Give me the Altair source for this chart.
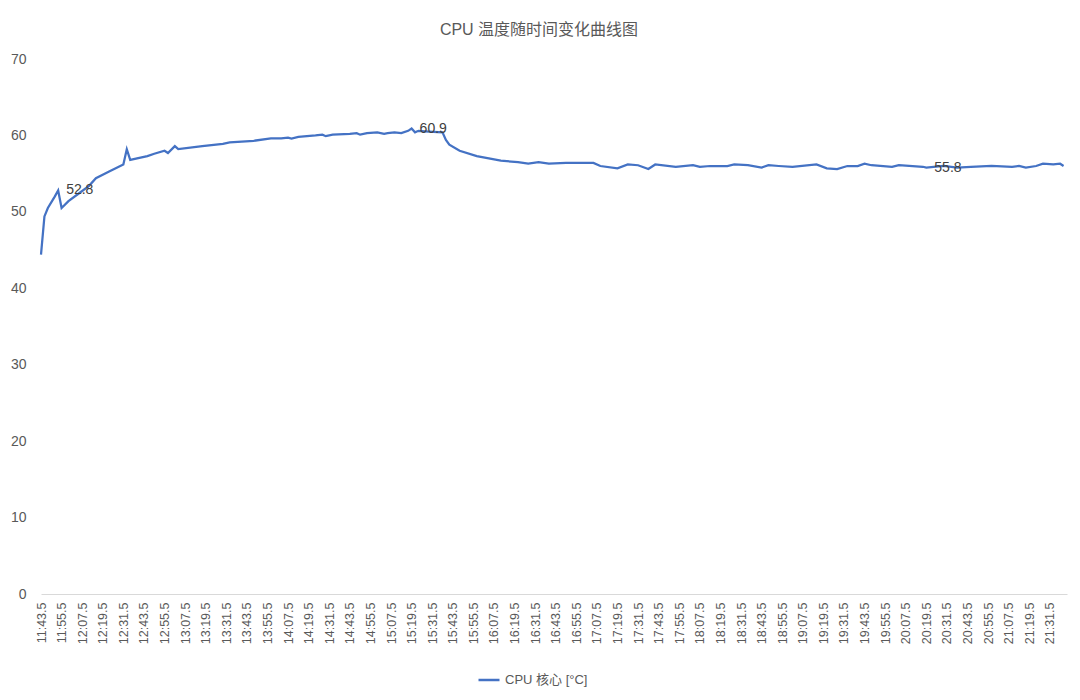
import altair as alt
import pandas as pd

title_text = "CPU 温度随时间变化曲线图"
series_name = "CPU 核心 [°C]"
start_label = "11:43.5"

# seconds after 11:43.5
t_offset = [0, 2, 4, 8, 10, 12, 16, 22, 28, 32, 40, 48, 50, 52, 58, 62, 66, 72,
            74, 78, 80, 94, 106, 110, 124, 134, 140, 144, 146, 150, 160, 164, 166,
            170, 180, 184, 186, 190, 196, 200, 202, 206, 210, 214, 216, 218, 220,
            226, 234, 236, 238, 244, 254, 268, 278, 284, 290, 296, 306, 322, 326,
            336, 342, 348, 354, 358, 370, 380, 384, 390, 400, 404, 412, 420, 424,
            430, 438, 452, 458, 464, 470, 476, 480, 484, 496, 500, 514, 516, 526,
            534, 542, 554, 566, 570, 574, 580, 584, 590, 594, 596]
temps = [44.4, 49.4, 50.5, 52.0, 52.8, 50.5, 51.4, 52.4, 53.4, 54.4, 55.3, 56.2,
         58.2, 56.8, 57.1, 57.3, 57.6, 58.0, 57.7, 58.6, 58.2, 58.6, 58.9, 59.1,
         59.3, 59.6, 59.6, 59.7, 59.6, 59.8, 60.0, 60.1, 59.9, 60.1, 60.2, 60.3,
         60.1, 60.3, 60.4, 60.2, 60.3, 60.4, 60.3, 60.6, 60.9, 60.4, 60.6, 60.5,
         60.4, 59.4, 58.8, 58.0, 57.3, 56.7, 56.5, 56.3, 56.5, 56.3, 56.4, 56.4,
         56.0, 55.7, 56.2, 56.1, 55.6, 56.2, 55.9, 56.1, 55.9, 56.0, 56.0, 56.2,
         56.1, 55.8, 56.1, 56.0, 55.9, 56.2, 55.7, 55.6, 56.0, 56.0, 56.3, 56.1,
         55.9, 56.1, 55.9, 55.8, 56.0, 55.8, 55.9, 56.0, 55.9, 56.0, 55.8, 56.0,
         56.3, 56.2, 56.3, 56.0]
labelled_offsets = [10, 216, 516]

tick_labels = [
    "11:43.5", "11:55.5", "12:07.5", "12:19.5", "12:31.5", "12:43.5", "12:55.5",
    "13:07.5", "13:19.5", "13:31.5", "13:43.5", "13:55.5", "14:07.5", "14:19.5",
    "14:31.5", "14:43.5", "14:55.5", "15:07.5", "15:19.5", "15:31.5", "15:43.5",
    "15:55.5", "16:07.5", "16:19.5", "16:31.5", "16:43.5", "16:55.5", "17:07.5",
    "17:19.5", "17:31.5", "17:43.5", "17:55.5", "18:07.5", "18:19.5", "18:31.5",
    "18:43.5", "18:55.5", "19:07.5", "19:19.5", "19:31.5", "19:43.5", "19:55.5",
    "20:07.5", "20:19.5", "20:31.5", "20:43.5", "20:55.5", "21:07.5", "21:19.5",
    "21:31.5"]
y_ticks = [0, 10, 20, 30, 40, 50, 60, 70]


def to_seconds(s):
    m, sec = s.split(":")
    return int(m) * 60 + float(sec)


start = to_seconds(start_label)
tick_values = [to_seconds(s) for s in tick_labels]

df = pd.DataFrame({
    "t": [start + o for o in t_offset],
    "temp": temps,
    "series": series_name,
})
df_lab = df[[o in labelled_offsets for o in t_offset]].copy()
df_lab["txt"] = df_lab["temp"].map(lambda v: f"{v:.1f}")

font = "Liberation Sans, Noto Sans CJK SC, sans-serif"
grey = "#595959"

x = alt.X("t:Q", scale=alt.Scale(domain=[start, start + 598], nice=False, zero=False),
          axis=alt.Axis(values=tick_values, tickCount=100, title=None, grid=False,
                        ticks=False, labelAngle=-90, labelFontSize=12.5, labelColor=grey,
                        labelPadding=8, domainColor="#d9d9d9", domainWidth=1.2,
                        labelOverlap=False,
                        labelExpr="floor(datum.value/60) + ':' + format(datum.value % 60, '04.1f')"))
y = alt.Y("temp:Q", scale=alt.Scale(domain=[0, 70], nice=False),
          axis=alt.Axis(values=y_ticks, title=None, grid=False, ticks=False, domain=False,
                        labelFontSize=14, labelColor=grey, labelPadding=15))

line = alt.Chart(df).mark_line(strokeWidth=2.25, interpolate="linear").encode(
    x=x, y=y,
    color=alt.Color("series:N", scale=alt.Scale(range=["#4472C4"]),
                    legend=alt.Legend(title=None, orient="none", legendX=436, legendY=609,
                                      symbolType="stroke", symbolSize=441,
                                      symbolStrokeWidth=2.5, labelFontSize=13,
                                      labelColor=grey, labelOffset=4)),
)

labels = alt.Chart(df_lab).mark_text(align="left", baseline="middle", dx=8,
                                     fontSize=14, color="#404040").encode(
    x=alt.X("t:Q"), y=alt.Y("temp:Q"), text="txt:N")

chart = (line + labels).properties(
    width=1026, height=535,
    padding={"left": 33, "top": 51, "right": 5, "bottom": 98},
    autosize=alt.AutoSizeParams(type="none"),
    title=alt.TitleParams(title_text, fontSize=16, fontWeight="normal", color=grey,
                          anchor="middle", dx=-15, offset=14, font=font),
).configure(font=font, background="white").configure_view(stroke=None)

chart.save("out.html", embed_options={"renderer": "svg", "actions": False})
